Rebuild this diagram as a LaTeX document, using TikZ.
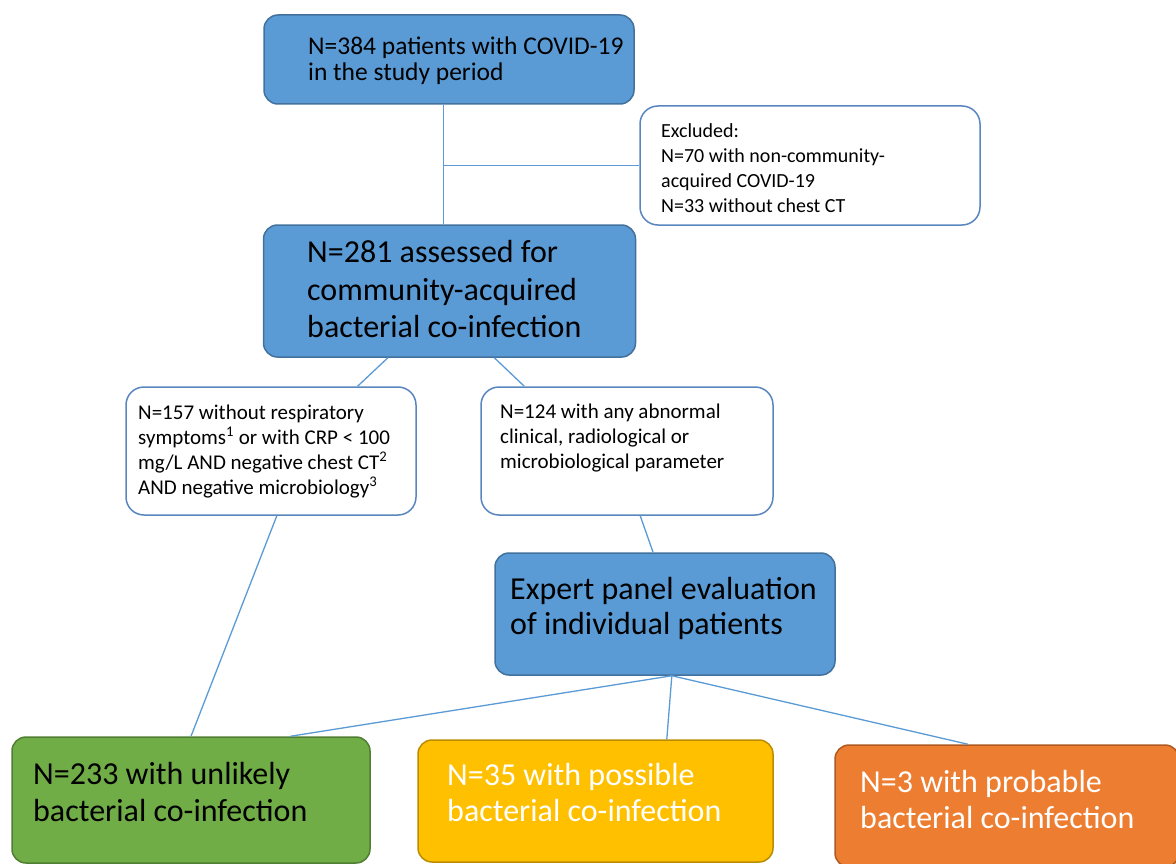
\documentclass[tikz,border=0pt]{standalone}
\usepackage{fontspec}
\setmainfont{Carlito}
\usetikzlibrary{calc}
\definecolor{bluefill}{HTML}{5B9BD5}
\definecolor{blueedge}{HTML}{41719C}
\definecolor{whiteedge}{HTML}{5A86C0}
\definecolor{linkc}{HTML}{5B9BD5}
\definecolor{greenfill}{HTML}{70AD47}
\definecolor{greenedge}{HTML}{507E32}
\definecolor{yellowfill}{HTML}{FFC000}
\definecolor{yellowedge}{HTML}{BC8C00}
\definecolor{orangefill}{HTML}{ED7D31}
\definecolor{orangeedge}{HTML}{AE5A21}
\tikzset{
  shapebox/.style={draw, line width=1.5pt, inner sep=0pt, rounded corners=14pt},
  bluebox/.style={shapebox, fill=bluefill, draw=blueedge},
  whitebox/.style={shapebox, fill=white, draw=whiteedge, rounded corners=18pt},
  greenbox/.style={shapebox, fill=greenfill, draw=greenedge},
  yellowbox/.style={shapebox, fill=yellowfill, draw=yellowedge},
  orangebox/.style={shapebox, fill=orangefill, draw=orangeedge},
  txt/.style={inner sep=0pt, align=left, anchor=west, text=black},
  smalltxt/.style={txt, font=\fontsize{21}{25}\selectfont},
  bigtxt/.style={txt, font=\fontsize{32}{36.5}\selectfont},
  link/.style={draw=linkc, line width=1.3pt},
}
\begin{document}
\begin{tikzpicture}[x=1pt,y=-1pt]
\useasboundingbox (0,0) rectangle (1176,864);
\fill[white] (0,0) rectangle (1176,864);

% boxes
\node[bluebox, minimum width=370pt, minimum height=89pt] (top) at (449,59.5) {};
\node[whitebox, minimum width=340pt, minimum height=119pt] (excl) at (810,165.5) {};
\node[bluebox, minimum width=372pt, minimum height=132pt] (b281) at (449.5,291) {};
\node[whitebox, minimum width=290pt, minimum height=128pt] (l157) at (271,451) {};
\node[whitebox, minimum width=292pt, minimum height=128pt] (r124) at (627,451) {};
\node[bluebox, minimum width=340pt, minimum height=122pt] (expert) at (665,614) {};
\node[greenbox, minimum width=358pt, minimum height=126pt] (green) at (191,800) {};
\node[yellowbox, minimum width=355pt, minimum height=122pt] (yellow) at (595.5,801) {};
\node[orangebox, minimum width=344pt, minimum height=122pt] (orange) at (1007,806) {};

% texts
\node[txt, font=\fontsize{25.5}{26}\selectfont] (top-t) at (308,60.6)
  {N=384 patients with COVID-19\\in the study period};
\node[txt, font=\fontsize{20}{25}\selectfont] (excl-t) at (661,167.7)
  {Excluded:\\N=70 with non-community-\\acquired COVID-19\\N=33 without chest CT};
\node[bigtxt, font=\fontsize{32}{37.5}\selectfont] (b281-t) at (307,289.3)
  {N=281 assessed for\\community-acquired\\bacterial co-infection};
\node[smalltxt] (l157-t) at (138,451.5)
  {N=157 without respiratory\\symptoms\textsuperscript{1} or with CRP < 100\\mg/L AND negative chest CT\textsuperscript{2}\\AND negative microbiology\textsuperscript{3}};
\node[smalltxt] (r124-t) at (500,438.4)
  {N=124 with any abnormal\\clinical, radiological or\\microbiological parameter};
\node[bigtxt, font=\fontsize{32}{35}\selectfont] (expert-t) at (510,608.5)
  {Expert panel evaluation\\of individual patients};
\node[bigtxt] (green-t) at (33,792.2)
  {N=233 with unlikely\\bacterial co-infection};
\node[bigtxt, text=white] (yellow-t) at (447,792.5)
  {N=35 with possible\\bacterial co-infection};
\node[bigtxt, text=white] (orange-t) at (860,799.3)
  {N=3 with probable\\bacterial co-infection};

% connectors
\coordinate (tp) at ($(top.south west)!0.485!(top.south east)$);
\path[link] (tp) -- (tp |- b281.north);
\path[link] (tp |- excl.west) -- (excl.west);
\path[link] ($(b281.south west)!0.335!(b281.south east)$) -- ($(l157.north west)!0.797!(l157.north east)$);
\path[link] ($(b281.south west)!0.62!(b281.south east)$) -- ($(r124.north west)!0.15!(r124.north east)$);
\path[link] ($(l157.south west)!0.52!(l157.south east)$) -- (green.north);
\path[link] ($(r124.south west)!0.545!(r124.south east)$) -- ($(expert.north west)!0.465!(expert.north east)$);
\coordinate (ex) at ($(expert.south west)!0.52!(expert.south east)$);
\path[link] (ex) -- ($(green.north west)!0.777!(green.north east)$);
\path[link] (ex) -- ($(yellow.north west)!0.70!(yellow.north east)$);
\path[link] (ex) -- ($(orange.north west)!0.387!(orange.north east)$);
\end{tikzpicture}
\end{document}
